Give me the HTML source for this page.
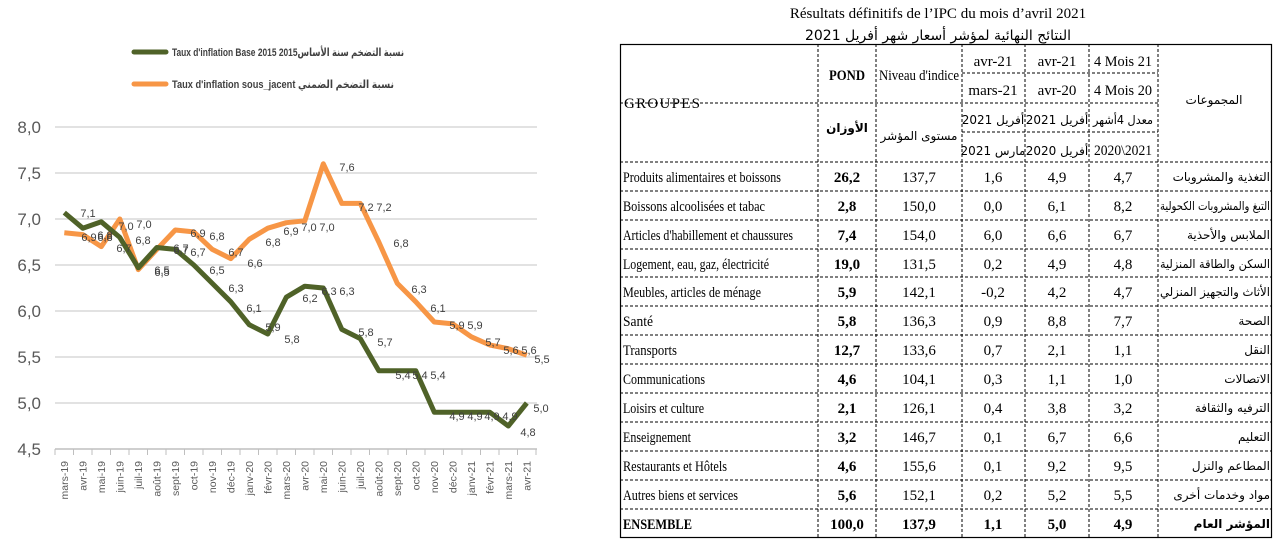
<!DOCTYPE html>
<html><head><meta charset="utf-8"><style>
html,body{margin:0;padding:0;background:#fff;}
svg{display:block;}
.yt{font-family:"Liberation Sans","DejaVu Sans",sans-serif;font-size:17px;fill:#595959;}
.xt{font-family:"Liberation Sans",sans-serif;font-size:10.5px;fill:#595959;}
.dl{font-family:"Liberation Sans",sans-serif;font-size:11px;fill:#404040;}
.lg{font-family:"Liberation Sans","DejaVu Sans",sans-serif;font-size:11px;fill:#404040;font-weight:bold;}
.t{font-family:"Liberation Serif","DejaVu Sans",serif;font-size:15px;fill:#000;}
.ta{font-family:"DejaVu Sans",sans-serif;font-size:12px;fill:#000;}
</style></head><body>
<svg width="1286" height="543" viewBox="0 0 1286 543">
<line x1="134" y1="52" x2="166" y2="52" stroke="#4f6228" stroke-width="5" stroke-linecap="round"/>
<text class="lg" x="172" y="56" textLength="232" lengthAdjust="spacingAndGlyphs">Taux d'inflation Base 2015 2015نسبة التضخم سنة الأساس</text>
<line x1="134" y1="84" x2="166" y2="84" stroke="#f79646" stroke-width="5" stroke-linecap="round"/>
<text class="lg" x="172" y="88" textLength="222" lengthAdjust="spacingAndGlyphs">Taux d'inflation sous_jacent نسبة التضخم الضمني</text>
<g stroke="#d9d9d9" stroke-width="1.5">
<line x1="55" y1="127" x2="537" y2="127"/><line x1="55" y1="173" x2="537" y2="173"/>
<line x1="55" y1="219" x2="537" y2="219"/><line x1="55" y1="265" x2="537" y2="265"/>
<line x1="55" y1="311" x2="537" y2="311"/><line x1="55" y1="357" x2="537" y2="357"/>
<line x1="55" y1="403" x2="537" y2="403"/>
</g>
<line x1="55" y1="449" x2="537" y2="449" stroke="#bfbfbf" stroke-width="1.5"/>
<g stroke="#bfbfbf" stroke-width="1">
<line x1="55" y1="449" x2="55" y2="455"/><line x1="73.5" y1="449" x2="73.5" y2="455"/><line x1="92" y1="449" x2="92" y2="455"/><line x1="110.5" y1="449" x2="110.5" y2="455"/><line x1="129" y1="449" x2="129" y2="455"/><line x1="147.5" y1="449" x2="147.5" y2="455"/><line x1="166" y1="449" x2="166" y2="455"/><line x1="184.5" y1="449" x2="184.5" y2="455"/><line x1="203" y1="449" x2="203" y2="455"/><line x1="221.5" y1="449" x2="221.5" y2="455"/><line x1="240" y1="449" x2="240" y2="455"/><line x1="258.5" y1="449" x2="258.5" y2="455"/><line x1="277" y1="449" x2="277" y2="455"/><line x1="295.5" y1="449" x2="295.5" y2="455"/><line x1="314" y1="449" x2="314" y2="455"/><line x1="332.5" y1="449" x2="332.5" y2="455"/><line x1="351" y1="449" x2="351" y2="455"/><line x1="369.5" y1="449" x2="369.5" y2="455"/><line x1="388" y1="449" x2="388" y2="455"/><line x1="406.5" y1="449" x2="406.5" y2="455"/><line x1="425" y1="449" x2="425" y2="455"/><line x1="443.5" y1="449" x2="443.5" y2="455"/><line x1="462" y1="449" x2="462" y2="455"/><line x1="480.5" y1="449" x2="480.5" y2="455"/><line x1="499" y1="449" x2="499" y2="455"/><line x1="517.5" y1="449" x2="517.5" y2="455"/><line x1="536" y1="449" x2="536" y2="455"/>
</g>
<g class="yt" text-anchor="end">
<text x="41" y="133">8,0</text><text x="41" y="179">7,5</text><text x="41" y="225">7,0</text><text x="41" y="271">6,5</text><text x="41" y="317">6,0</text><text x="41" y="363">5,5</text><text x="41" y="409">5,0</text><text x="41" y="455">4,5</text>
</g>
<g class="xt" text-anchor="end">
<text transform="translate(68,461) rotate(-90)">mars-19</text>
<text transform="translate(86.5,461) rotate(-90)">avr-19</text>
<text transform="translate(105,461) rotate(-90)">mai-19</text>
<text transform="translate(123.5,461) rotate(-90)">juin-19</text>
<text transform="translate(142,461) rotate(-90)">juil-19</text>
<text transform="translate(160.5,461) rotate(-90)">août-19</text>
<text transform="translate(179,461) rotate(-90)">sept-19</text>
<text transform="translate(197.5,461) rotate(-90)">oct-19</text>
<text transform="translate(216,461) rotate(-90)">nov-19</text>
<text transform="translate(234.5,461) rotate(-90)">déc-19</text>
<text transform="translate(253,461) rotate(-90)">janv-20</text>
<text transform="translate(271.5,461) rotate(-90)">févr-20</text>
<text transform="translate(290,461) rotate(-90)">mars-20</text>
<text transform="translate(308.5,461) rotate(-90)">avr-20</text>
<text transform="translate(327,461) rotate(-90)">mai-20</text>
<text transform="translate(345.5,461) rotate(-90)">juin-20</text>
<text transform="translate(364,461) rotate(-90)">juil-20</text>
<text transform="translate(382.5,461) rotate(-90)">août-20</text>
<text transform="translate(401,461) rotate(-90)">sept-20</text>
<text transform="translate(419.5,461) rotate(-90)">oct-20</text>
<text transform="translate(438,461) rotate(-90)">nov-20</text>
<text transform="translate(456.5,461) rotate(-90)">déc-20</text>
<text transform="translate(475,461) rotate(-90)">janv-21</text>
<text transform="translate(493.5,461) rotate(-90)">févr-21</text>
<text transform="translate(512,461) rotate(-90)">mars-21</text>
<text transform="translate(530.5,461) rotate(-90)">avr-21</text>
</g>
<polyline fill="none" stroke="#f79646" stroke-width="5" stroke-linejoin="round" points="64.3,232.8 82.8,234.6 101.3,246.6 119.8,219 138.3,269.6 156.8,249.4 175.3,230 193.8,231.9 212.3,249.4 230.8,258.6 249.3,239.2 267.8,228.2 286.3,222.7 304.8,220.8 323.3,163.8 341.8,203.4 360.3,203.4 378.8,242 397.3,283.4 415.8,301.8 434.3,322 452.8,323.9 471.3,336.8 489.8,345 508.3,348.7 526.8,355.2"/>
<polyline fill="none" stroke="#4f6228" stroke-width="5" stroke-linejoin="round" points="64.3,212.6 82.8,228.2 101.3,221.8 119.8,237.4 138.3,267.8 156.8,247.5 175.3,249.4 193.8,265 212.3,283.4 230.8,301.8 249.3,324.8 267.8,334 286.3,297.2 304.8,286.2 323.3,288 341.8,329.4 360.3,338.6 378.8,370.8 397.3,370.8 415.8,370.8 434.3,412.2 452.8,412.2 471.3,412.2 489.8,412.2 508.3,426 526.8,403"/>
<g class="dl" text-anchor="middle">
<text x="88" y="217">7,1</text><text x="89" y="241">6,9</text><text x="105" y="241">6,8</text><text x="105" y="239">6,8</text>
<text x="126" y="230">7,0</text><text x="144" y="228">7,0</text><text x="124" y="252">6,7</text><text x="143" y="244">6,8</text>
<text x="162" y="276">6,5</text><text x="162" y="274">6,5</text><text x="181" y="254">6,7</text><text x="181" y="252">6,7</text>
<text x="198" y="237">6,9</text><text x="217" y="240">6,8</text><text x="198" y="256">6,7</text><text x="236" y="256">6,7</text>
<text x="217" y="274">6,5</text><text x="255" y="267">6,6</text><text x="236" y="292">6,3</text><text x="254" y="312">6,1</text>
<text x="273" y="246">6,8</text><text x="273" y="331">5,9</text><text x="291" y="235">6,9</text><text x="292" y="343">5,8</text>
<text x="309" y="231">7,0</text><text x="327" y="231">7,0</text><text x="310" y="302">6,2</text><text x="347" y="171">7,6</text>
<text x="329" y="295">6,3</text><text x="347" y="295">6,3</text><text x="366" y="211">7,2</text><text x="384" y="211">7,2</text>
<text x="401" y="247">6,8</text><text x="366" y="336">5,8</text><text x="385" y="346">5,7</text><text x="419" y="293">6,3</text>
<text x="438" y="312">6,1</text><text x="403" y="379">5,4</text><text x="420" y="379">5,4</text><text x="438" y="379">5,4</text>
<text x="457" y="329">5,9</text><text x="475" y="329">5,9</text><text x="493" y="346">5,7</text><text x="511" y="354">5,6</text>
<text x="529" y="354">5,6</text><text x="542" y="363">5,5</text><text x="457" y="420">4,9</text><text x="475" y="420">4,9</text>
<text x="492" y="420">4,9</text><text x="510" y="420">4,9</text><text x="541" y="412">5,0</text><text x="528" y="436">4,8</text>
</g>

<text class="t" x="938" y="18" text-anchor="middle" font-size="17">Résultats définitifs de l’IPC du mois d’avril 2021</text>
<text x="938" y="40" text-anchor="middle" style="font-family:'DejaVu Sans',sans-serif;font-size:14px">النتائج النهائية لمؤشر أسعار شهر أفريل 2021</text>
<g fill="none" stroke="#000" stroke-width="1" stroke-dasharray="3,2">
<line x1="818" y1="44" x2="818" y2="537"/><line x1="876" y1="44" x2="876" y2="537"/><line x1="962" y1="44" x2="962" y2="537"/><line x1="1025" y1="44" x2="1025" y2="537"/><line x1="1089" y1="44" x2="1089" y2="537"/><line x1="1158" y1="44" x2="1158" y2="537"/>
<line x1="962" y1="73" x2="1158" y2="73"/><line x1="962" y1="132" x2="1158" y2="132"/><line x1="620" y1="103" x2="1158" y2="103"/>
<line x1="620" y1="162" x2="1272" y2="162"/><line x1="620" y1="191" x2="1272" y2="191"/><line x1="620" y1="220" x2="1272" y2="220"/><line x1="620" y1="249" x2="1272" y2="249"/><line x1="620" y1="277" x2="1272" y2="277"/><line x1="620" y1="306" x2="1272" y2="306"/><line x1="620" y1="335" x2="1272" y2="335"/><line x1="620" y1="364" x2="1272" y2="364"/><line x1="620" y1="393" x2="1272" y2="393"/><line x1="620" y1="422" x2="1272" y2="422"/><line x1="620" y1="451" x2="1272" y2="451"/><line x1="620" y1="480" x2="1272" y2="480"/><line x1="620" y1="509" x2="1272" y2="509"/>
</g>
<rect x="620.5" y="44.5" width="651" height="493" fill="none" stroke="#000" stroke-width="1.2"/>
<text class="t" x="624" y="108" font-size="14" textLength="76" lengthAdjust="spacing">GROUPES</text>
<g class="t" text-anchor="middle" font-size="14">
<text x="847" y="80" font-weight="bold" textLength="36" lengthAdjust="spacingAndGlyphs">POND</text>
<text x="919" y="80" textLength="80" lengthAdjust="spacingAndGlyphs">Niveau d'indice</text>
<text x="993" y="66">avr-21</text><text x="1057" y="66">avr-21</text><text x="1123" y="66" textLength="58" lengthAdjust="spacingAndGlyphs">4 Mois 21</text>
<text x="993" y="95">mars-21</text><text x="1057" y="95">avr-20</text><text x="1123" y="95" textLength="58" lengthAdjust="spacingAndGlyphs">4 Mois 20</text>
<text x="1123" y="155" textLength="58" lengthAdjust="spacingAndGlyphs">2020\2021</text>
</g>
<g class="ta" text-anchor="middle">
<text x="1057" y="155">أفريل 2020</text><text x="993" y="155">مارس 2021</text>
<text x="993" y="124">أفريل 2021</text><text x="1057" y="124">أفريل 2021</text><text x="1123" y="124" textLength="60" lengthAdjust="spacingAndGlyphs">معدل 4أشهر</text>
<text x="847" y="132" font-weight="bold">الأوزان</text>
<text x="919" y="140">مستوى المؤشر</text>
<text x="1214" y="104">المجموعات</text>
</g>
<g class="t" font-size="14">
<g text-anchor="start">
<text x="623" y="182" textLength="158" lengthAdjust="spacingAndGlyphs">Produits alimentaires et boissons</text>
<text x="623" y="211" textLength="142" lengthAdjust="spacingAndGlyphs">Boissons alcoolisées et tabac</text>
<text x="623" y="240" textLength="170" lengthAdjust="spacingAndGlyphs">Articles d'habillement et chaussures</text>
<text x="623" y="269" textLength="146" lengthAdjust="spacingAndGlyphs">Logement, eau, gaz, électricité</text>
<text x="623" y="297" textLength="138" lengthAdjust="spacingAndGlyphs">Meubles, articles de ménage</text>
<text x="623" y="326" textLength="30" lengthAdjust="spacingAndGlyphs">Santé</text>
<text x="623" y="355" textLength="54" lengthAdjust="spacingAndGlyphs">Transports</text>
<text x="623" y="384" textLength="82" lengthAdjust="spacingAndGlyphs">Communications</text>
<text x="623" y="413" textLength="81" lengthAdjust="spacingAndGlyphs">Loisirs et culture</text>
<text x="623" y="442" textLength="68" lengthAdjust="spacingAndGlyphs">Enseignement</text>
<text x="623" y="471" textLength="104" lengthAdjust="spacingAndGlyphs">Restaurants et Hôtels</text>
<text x="623" y="500" textLength="115" lengthAdjust="spacingAndGlyphs">Autres biens et services</text>
<text x="623" y="529" font-weight="bold" textLength="69" lengthAdjust="spacingAndGlyphs">ENSEMBLE</text>
</g>
<g text-anchor="middle">
<g font-weight="bold"><text x="847" y="182">26,2</text><text x="847" y="211">2,8</text><text x="847" y="240">7,4</text><text x="847" y="269">19,0</text><text x="847" y="297">5,9</text><text x="847" y="326">5,8</text><text x="847" y="355">12,7</text><text x="847" y="384">4,6</text><text x="847" y="413">2,1</text><text x="847" y="442">3,2</text><text x="847" y="471">4,6</text><text x="847" y="500">5,6</text><text x="847" y="529">100,0</text></g>
<text x="919" y="182">137,7</text><text x="919" y="211">150,0</text><text x="919" y="240">154,0</text><text x="919" y="269">131,5</text><text x="919" y="297">142,1</text><text x="919" y="326">136,3</text><text x="919" y="355">133,6</text><text x="919" y="384">104,1</text><text x="919" y="413">126,1</text><text x="919" y="442">146,7</text><text x="919" y="471">155,6</text><text x="919" y="500">152,1</text><text x="919" y="529" font-weight="bold">137,9</text>
<text x="993" y="182">1,6</text><text x="993" y="211">0,0</text><text x="993" y="240">6,0</text><text x="993" y="269">0,2</text><text x="993" y="297">-0,2</text><text x="993" y="326">0,9</text><text x="993" y="355">0,7</text><text x="993" y="384">0,3</text><text x="993" y="413">0,4</text><text x="993" y="442">0,1</text><text x="993" y="471">0,1</text><text x="993" y="500">0,2</text><text x="993" y="529" font-weight="bold">1,1</text>
<text x="1057" y="182">4,9</text><text x="1057" y="211">6,1</text><text x="1057" y="240">6,6</text><text x="1057" y="269">4,9</text><text x="1057" y="297">4,2</text><text x="1057" y="326">8,8</text><text x="1057" y="355">2,1</text><text x="1057" y="384">1,1</text><text x="1057" y="413">3,8</text><text x="1057" y="442">6,7</text><text x="1057" y="471">9,2</text><text x="1057" y="500">5,2</text><text x="1057" y="529" font-weight="bold">5,0</text>
<text x="1123" y="182">4,7</text><text x="1123" y="211">8,2</text><text x="1123" y="240">6,7</text><text x="1123" y="269">4,8</text><text x="1123" y="297">4,7</text><text x="1123" y="326">7,7</text><text x="1123" y="355">1,1</text><text x="1123" y="384">1,0</text><text x="1123" y="413">3,2</text><text x="1123" y="442">6,6</text><text x="1123" y="471">9,5</text><text x="1123" y="500">5,5</text><text x="1123" y="529" font-weight="bold">4,9</text>
</g>
</g>
<g class="ta" text-anchor="end">
<text x="1270" y="181">التغذية والمشروبات</text>
<text x="1270" y="210" textLength="110" lengthAdjust="spacingAndGlyphs">التبغ والمشروبات الكحولية</text>
<text x="1270" y="239">الملابس والأحذية</text>
<text x="1270" y="268" textLength="110" lengthAdjust="spacingAndGlyphs">السكن والطاقة المنزلية</text>
<text x="1270" y="296" textLength="110" lengthAdjust="spacingAndGlyphs">الأثاث والتجهيز المنزلي</text>
<text x="1270" y="325">الصحة</text>
<text x="1270" y="354">النقل</text>
<text x="1270" y="383">الاتصالات</text>
<text x="1270" y="412">الترفيه والثقافة</text>
<text x="1270" y="441">التعليم</text>
<text x="1270" y="470">المطاعم والنزل</text>
<text x="1270" y="499">مواد وخدمات أخرى</text>
<text x="1270" y="528" font-weight="bold">المؤشر العام</text>
</g>
</svg>
</body></html>
